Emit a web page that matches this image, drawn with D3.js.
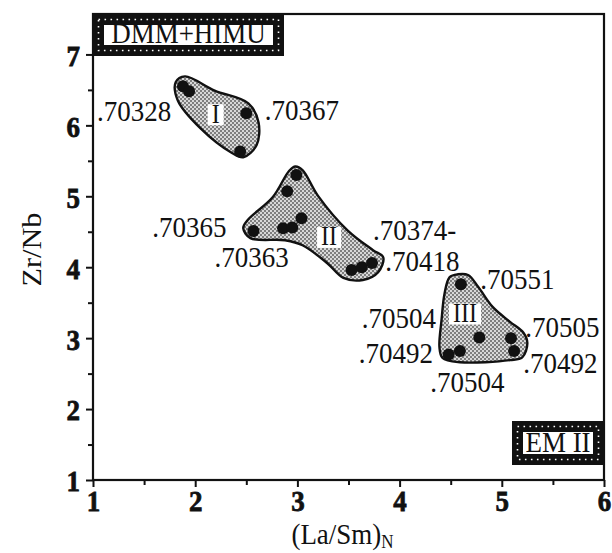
<!DOCTYPE html>
<html>
<head>
<meta charset="utf-8">
<script src="https://cdn.jsdelivr.net/npm/d3@7/dist/d3.min.js"></script>
<style>
  body { margin: 0; background: #fff; }
  text { font-family: "Liberation Serif", "Times New Roman", serif; fill: #111; }
</style>
</head>
<body>
<svg id="chart" width="612" height="553"></svg>
<script>
// ---- data -----------------------------------------------------------
const xTicks = [1, 2, 3, 4, 5, 6];
const xMinorTicks = [1.5, 2.5, 3.5, 4.5, 5.5];
const yTicks = [1, 2, 3, 4, 5, 6, 7];
const yMinorTicks = [1.5, 2.5, 3.5, 4.5, 5.5, 6.5];

// samples: [(La/Sm)N, Zr/Nb]
const groupIPoints = [[1.88, 6.55], [1.94, 6.48], [2.50, 6.17], [2.44, 5.63]];
const groupIIPoints = [[2.99, 5.30], [2.90, 5.07], [3.04, 4.69], [2.86, 4.55], [2.95, 4.56],
                       [2.57, 4.51], [3.53, 3.96], [3.63, 4.00], [3.73, 4.06]];
const groupIIIPoints = [[4.60, 3.76], [4.78, 3.01], [5.09, 3.00], [5.12, 2.82], [4.48, 2.77], [4.59, 2.82]];

// field outlines around each group
const groupIOutline = [[1.81, 6.61], [1.90, 6.69], [2.19, 6.49], [2.52, 6.31], [2.62, 6.04],
                       [2.60, 5.72], [2.47, 5.55], [2.36, 5.61], [2.05, 5.96], [1.83, 6.35]];
const groupIIOutline = [[2.98, 5.42], [3.05, 5.37], [3.20, 5.01], [3.49, 4.52], [3.74, 4.24],
                        [3.84, 4.14], [3.79, 3.93], [3.64, 3.82], [3.45, 3.85], [3.29, 4.06],
                        [3.05, 4.31], [2.88, 4.38], [2.54, 4.41], [2.47, 4.55], [2.51, 4.66],
                        [2.76, 4.99], [2.92, 5.36]];
const groupIIIOutline = [[4.49, 3.86], [4.57, 3.90], [4.67, 3.89], [4.77, 3.72], [4.91, 3.44],
                         [5.08, 3.23], [5.21, 3.08], [5.25, 2.93], [5.20, 2.73], [5.08, 2.69],
                         [4.59, 2.66], [4.42, 2.72], [4.39, 2.87], [4.41, 3.25], [4.44, 3.63]];

const groupNames = ["I", "II", "III"];
const groupNameAt = [[2.20, 6.15], [3.31, 4.42], [4.64, 3.34]];

// 87Sr/86Sr annotations
const srLabels = [".70328", ".70367", ".70365", ".70363", ".70374-", ".70418",
                  ".70551", ".70504", ".70492", ".70504", ".70505", ".70492"];
const srLabelAt = [[1.04, 6.06], [2.68, 6.07], [1.58, 4.42], [2.19, 4.00], [3.74, 4.39], [3.86, 3.95],
                   [4.79, 3.69], [3.63, 3.14], [3.60, 2.65], [4.30, 2.24], [5.23, 3.01], [5.21, 2.51]];

const sourceLabels = ["DMM+HIMU", "EM II"];

// ---- layout ---------------------------------------------------------
const W = 612, H = 553;
const margin = { left: 93, right: 8, top: 14, bottom: 73 };
const stretch = 1.12;           // tall serif lettering

const svg = d3.select("#chart");
const x = d3.scaleLinear().domain([1, 6]).range([margin.left, W - margin.right]);
const y = d3.scaleLinear().domain([1, 7.57]).range([H - margin.bottom, margin.top]);

const defs = svg.append("defs");
const pat = defs.append("pattern").attr("id", "stipple")
  .attr("width", 4).attr("height", 4).attr("patternUnits", "userSpaceOnUse");
pat.append("rect").attr("width", 4).attr("height", 4).attr("fill", "#7e7e7e");
pat.append("circle").attr("cx", 1).attr("cy", 1).attr("r", 0.95).attr("fill", "#fff");
pat.append("circle").attr("cx", 3).attr("cy", 3).attr("r", 0.95).attr("fill", "#fff");

function label(g, str, px, py, size, opts = {}) {
  return g.append("text")
    .attr("transform", `translate(${px},${py}) scale(1,${stretch})`)
    .attr("text-anchor", opts.anchor || "start")
    .attr("font-size", size)
    .style("font-weight", opts.weight || "normal")
    .text(str);
}

// ---- axes -----------------------------------------------------------
function styleTickText(sel) {
  sel.attr("transform", `scale(1,${stretch})`)
    .attr("font-size", 27)
    .attr("font-weight", 700)
    .style("font-weight", "700")
    .style("font-family", "'Liberation Serif', serif")
    .attr("fill", "#111")
    .attr("stroke", "#111")
    .attr("stroke-width", 0.7);
}

const xAxis = svg.append("g").attr("transform", `translate(0,${y(1)})`)
  .call(d3.axisBottom(x).tickValues(xTicks).tickSize(7).tickFormat(d3.format("d")));
xAxis.selectAll(".tick text").attr("y", 28).attr("dy", 0).call(styleTickText);
svg.append("g").attr("transform", `translate(0,${y(1)})`)
  .call(d3.axisBottom(x).tickValues(xMinorTicks).tickSize(5).tickFormat(""));

const yAxis = svg.append("g").attr("transform", `translate(${x(1)},0)`)
  .call(d3.axisLeft(y).tickValues(yTicks).tickSize(7).tickFormat(d3.format("d")));
yAxis.selectAll(".tick text").attr("x", -13).attr("dy", "0.36em").call(styleTickText);
svg.append("g").attr("transform", `translate(${x(1)},0)`)
  .call(d3.axisLeft(y).tickValues(yMinorTicks).tickSize(5).tickFormat(""));

svg.selectAll(".domain").remove();
svg.selectAll(".tick line").attr("stroke", "#111").attr("stroke-width", 2);

// plot frame
svg.append("rect")
  .attr("x", x(1)).attr("y", y(7.57))
  .attr("width", x(6) - x(1)).attr("height", y(1) - y(7.57))
  .attr("fill", "none").attr("stroke", "#111").attr("stroke-width", 2.2);

// axis titles
const xt = svg.append("text")
  .attr("transform", `translate(${x(3.5) - 6},544) scale(1,${stretch})`)
  .attr("text-anchor", "middle").attr("font-size", 27);
xt.append("tspan").text("(La/Sm)");
xt.append("tspan").attr("font-size", 17).attr("dy", 4).text("N");

svg.append("text")
  .attr("transform", `translate(41,${y(4.25)}) rotate(-90) scale(${stretch},1)`)
  .attr("text-anchor", "middle").attr("font-size", 27)
  .text("Zr/Nb");

// ---- fields ---------------------------------------------------------
const outline = d3.line().x(d => x(d[0])).y(d => y(d[1])).curve(d3.curveCatmullRomClosed.alpha(0.5));
const fields = svg.append("g");
[groupIOutline, groupIIOutline, groupIIIOutline].forEach(o => {
  fields.append("path").attr("d", outline(o))
    .attr("fill", "url(#stipple)").attr("stroke", "#111").attr("stroke-width", 2.4);
});

// group numerals on white patches
groupNames.forEach((name, i) => {
  const [gx, gy] = groupNameAt[i];
  const g = svg.append("g");
  const t = label(g, name, x(gx), y(gy) + 8, 24, { anchor: "middle" });
  const bb = t.node().getBBox();
  const w = bb.width + 8, h = 21;
  g.insert("rect", "text").attr("x", x(gx) - w / 2).attr("y", y(gy) - h / 2)
    .attr("width", w).attr("height", h).attr("fill", "#fff");
});

// sample points
const pts = svg.append("g");
[groupIPoints, groupIIPoints, groupIIIPoints].forEach(arr => {
  pts.selectAll(null).data(arr).enter().append("circle")
    .attr("cx", d => x(d[0])).attr("cy", d => y(d[1])).attr("r", 6)
    .attr("fill", "#111");
});

// isotope ratio labels
const lbl = svg.append("g");
srLabels.forEach((s, i) => {
  label(lbl, s, x(srLabelAt[i][0]), y(srLabelAt[i][1]), 27);
});

// ---- source boxes ---------------------------------------------------
function sourceBox(str, ox0, oy0, ox1, oy1, border) {
  const g = svg.append("g");
  g.append("rect").attr("x", ox0).attr("y", oy0).attr("width", ox1 - ox0).attr("height", oy1 - oy0)
    .attr("fill", "#111");
  const m = border / 2;
  g.append("rect").attr("x", ox0 + m).attr("y", oy0 + m)
    .attr("width", ox1 - ox0 - 2 * m).attr("height", oy1 - oy0 - 2 * m)
    .attr("fill", "none").attr("stroke", "#fff").attr("stroke-width", 1.6)
    .attr("stroke-dasharray", "1.6,4.4");
  g.append("rect").attr("x", ox0 + border).attr("y", oy0 + border)
    .attr("width", ox1 - ox0 - 2 * border).attr("height", oy1 - oy0 - 2 * border)
    .attr("fill", "#fff");
  label(g, str, (ox0 + ox1) / 2, oy1 - border - 2, 27, { anchor: "middle" });
}
sourceBox(sourceLabels[0], x(1), y(7.57), x(1) + 191, y(7.57) + 42, 11);
sourceBox(sourceLabels[1], x(6) - 92, y(1) - 59, x(6), y(1) - 15, 11);
</script>
</body>
</html>
